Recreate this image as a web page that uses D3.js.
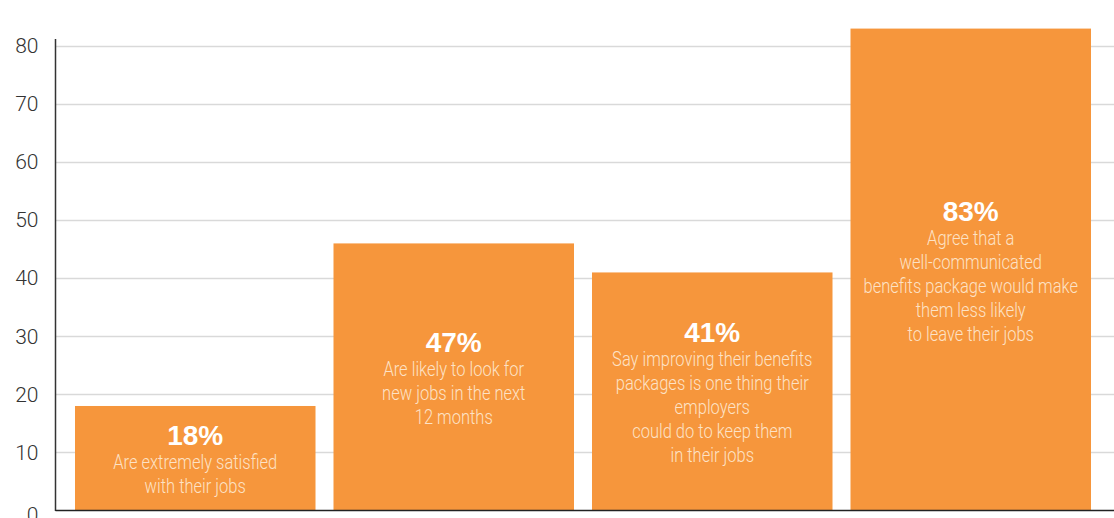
<!DOCTYPE html>
<html>
<head>
<meta charset="utf-8">
<script src="https://cdn.jsdelivr.net/npm/d3@7"></script>
<style>
  html, body { margin: 0; padding: 0; background: #fff; overflow: hidden; }
  svg { display: block; }
</style>
</head>
<body>
<svg id="chart" width="1114" height="518"></svg>
<script>
const categories = ["satisfied", "lookForJobs", "improveBenefits", "wellCommunicated"];
const values = [18, 46, 41, 83];
const percentLabels = ["18%", "47%", "41%", "83%"];
const descriptions = [
  ["Are extremely satisfied", "with their jobs"],
  ["Are likely to look for", "new jobs in the next", "12 months"],
  ["Say improving their benefits", "packages is one thing their", "employers", "could do to keep them", "in their jobs"],
  ["Agree that a", "well-communicated", "benefits package would make", "them less likely", "to leave their jobs"]
];
const yTicks = [0, 10, 20, 30, 40, 50, 60, 70, 80];

const svg = d3.select("#chart");
const W = 1114;
const y = d3.scaleLinear().domain([0, 80]).range([510.5, 46]);
const x = d3.scaleBand().domain(categories).range([66, 1100]).paddingInner(0.0696).paddingOuter(0.0348);
const axisX = 55.5;

// gridlines
svg.append("g").selectAll("line").data(yTicks.filter(d => d > 0)).join("line")
  .attr("x1", axisX).attr("x2", W)
  .attr("y1", d => Math.round(y(d)) + 0.5).attr("y2", d => Math.round(y(d)) + 0.5)
  .attr("stroke", "#d9d9d9").attr("stroke-width", 1.5);

// y axis labels
const yAxis = d3.axisLeft(y).tickValues(yTicks).tickSize(0).tickPadding(17);
const gy = svg.append("g").attr("transform", `translate(${axisX},0)`).call(yAxis);
gy.select(".domain").remove();
gy.selectAll("text")
  .attr("font-family", "Roboto, 'Liberation Sans', Arial, sans-serif")
  .attr("font-weight", 300)
  .attr("font-size", 21).attr("fill", "#333")
  .attr("dy", (d) => d === 0 ? "0.5em" : "0.32em");

// bars
const bars = svg.append("g").selectAll("g").data(categories).join("g");
bars.append("rect")
  .attr("x", d => x(d)).attr("width", x.bandwidth())
  .attr("y", (d, i) => y(values[i])).attr("height", (d, i) => y(0) - y(values[i]))
  .attr("fill", "#f6963c");

// calibrate condensed look
const descFont = "Roboto, 'Liberation Sans', Arial, sans-serif";
const probe = svg.append("text").attr("font-family", descFont).attr("font-weight", 300)
  .attr("font-size", 20).text(descriptions[0][0]);
const sx = 164 / probe.node().getComputedTextLength();
probe.remove();

// labels
const lh = 24;
bars.each(function(d, i) {
  const g = d3.select(this);
  const cx = x(d) + x.bandwidth() / 2;
  const center = (y(values[i]) + y(0)) / 2 + 1;
  const nLines = descriptions[i].length + 1;
  const top = center - nLines * lh / 2;
  g.append("text")
    .attr("x", cx).attr("y", top + 22)
    .attr("text-anchor", "middle")
    .attr("font-family", "'Liberation Sans', Arial, sans-serif")
    .attr("font-weight", "bold").attr("font-size", 28).attr("fill", "#fff")
    .text(percentLabels[i]);
  descriptions[i].forEach((line, k) => {
    g.append("text")
      .attr("transform", `translate(${cx},${top + 22 + lh * (k + 1)}) scale(${sx},1)`)
      .attr("text-anchor", "middle")
      .attr("font-family", descFont).attr("font-weight", 300)
      .attr("font-size", 20).attr("fill", "#fde2c6")
      .text(line);
  });
});

// axis lines
svg.append("line").attr("x1", axisX).attr("x2", axisX).attr("y1", 39).attr("y2", 511)
  .attr("stroke", "#333").attr("stroke-width", 1.5);
svg.append("line").attr("x1", axisX).attr("x2", W).attr("y1", 510.5).attr("y2", 510.5)
  .attr("stroke", "#222").attr("stroke-width", 1.5);
</script>
</body>
</html>
